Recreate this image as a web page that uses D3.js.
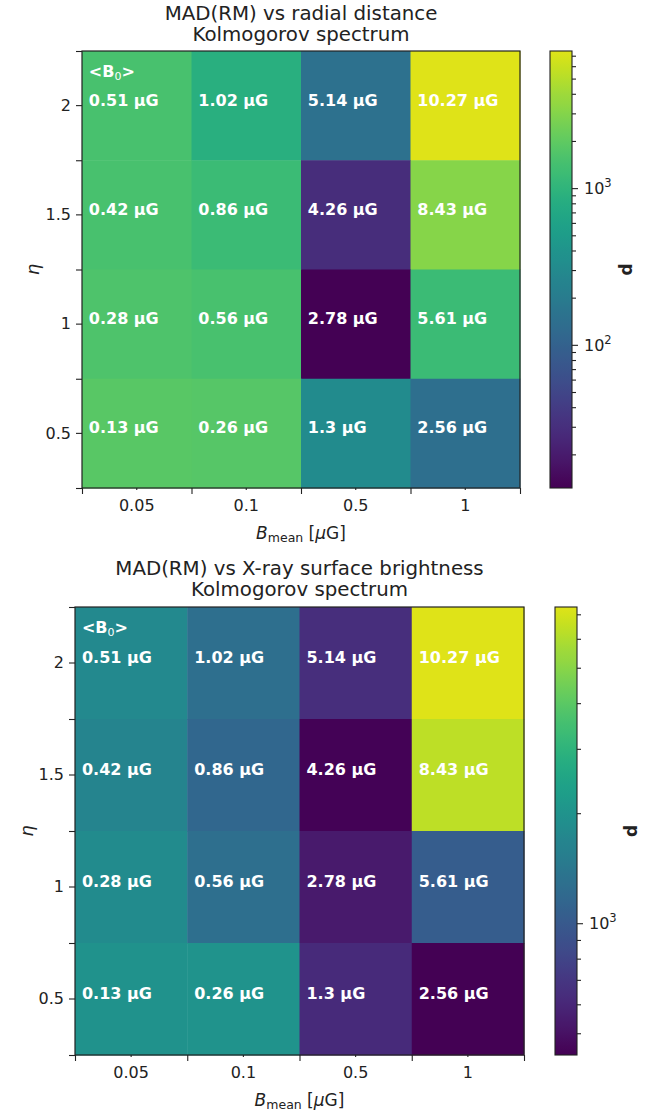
<!DOCTYPE html>
<html><head><meta charset="utf-8">
<script src="https://cdn.jsdelivr.net/npm/d3@7"></script>
<style>
body{margin:0;background:#fff}
svg text{font-family:"DejaVu Sans",sans-serif}
</style>
</head><body>
<svg id="c" width="660" height="1113"></svg>
<script>
// ---- data ----
const bmeanLabels = ["0.05", "0.1", "0.5", "1"];
const etaLabels = ["2", "1.5", "1", "0.5"];              // rows, top to bottom
const b0Labels = [
  ["0.51 µG", "1.02 µG", "5.14 µG", "10.27 µG"],
  ["0.42 µG", "0.86 µG", "4.26 µG", "8.43 µG"],
  ["0.28 µG", "0.56 µG", "2.78 µG", "5.61 µG"],
  ["0.13 µG", "0.26 µG", "1.3 µG", "2.56 µG"]
];
const qRadial = [
  [1479, 863, 149, 7500],
  [1479, 1211, 29, 3113],
  [1585, 1479, 12.2, 1211],
  [1811, 1754, 313, 139]
];
const qXray = [
  [1762, 1270, 641, 7330],
  [1660, 1161, 445, 6310],
  [1812, 1270, 536, 1031],
  [1983, 2014, 622, 436]
];
const titleRadial = ["MAD(RM) vs radial distance", "Kolmogorov spectrum"];
const titleXray = ["MAD(RM) vs X-ray surface brightness", "Kolmogorov spectrum"];
const cbarLabel = "d";

// ---- layout ----
const panels = [
  {q: qRadial, title: titleRadial, x0: 82, x1: 520, y0: 51, y1: 488, cx0: 550, cx1: 572, t1: 19.5, etaX: 33},
  {q: qXray, title: titleXray, x0: 75, x1: 524, y0: 607, y1: 1055, cx0: 555, cx1: 577, t1: 574.5, etaX: 27}
];

const cmap = t => d3.interpolateViridis(t * 0.95);

const svg = d3.select("#c");
const defs = svg.append("defs");
const grad = defs.append("linearGradient").attr("id", "vir")
  .attr("x1", 0).attr("y1", 1).attr("x2", 0).attr("y2", 0);
d3.range(0, 1.0001, 0.02).forEach(t => grad.append("stop")
  .attr("offset", t).attr("stop-color", cmap(t)));

panels.forEach(p => {
  const flat = p.q.flat();
  const ext = d3.extent(flat);
  const color = d3.scaleSequentialLog(cmap).domain(ext);
  const x = d3.scaleBand().domain(bmeanLabels).range([p.x0, p.x1]).padding(0);
  const y = d3.scaleBand().domain(etaLabels).range([p.y0, p.y1]).padding(0);
  const xb = d3.scaleLinear().domain([0, bmeanLabels.length]).range([p.x0, p.x1]);
  const yb = d3.scaleLinear().domain([0, etaLabels.length]).range([p.y0, p.y1]);
  const g = svg.append("g");

  // cells
  p.q.forEach((row, i) => row.forEach((v, j) => {
    g.append("rect")
      .attr("x", x(bmeanLabels[j])).attr("y", y(etaLabels[i]))
      .attr("width", x.bandwidth() + 0.5).attr("height", y.bandwidth() + 0.5)
      .attr("fill", color(v));
  }));
  // cell labels
  p.q.forEach((row, i) => row.forEach((v, j) => {
    g.append("text")
      .attr("x", x(bmeanLabels[j]) + x.bandwidth() * 0.062)
      .attr("y", y(etaLabels[i]) + y.bandwidth() / 2)
      .attr("fill", "#fff").attr("font-weight", "bold").attr("font-size", 16)
      .text(b0Labels[i][j]);
  }));
  const b0 = g.append("text")
    .attr("x", x(bmeanLabels[0]) + x.bandwidth() * 0.062)
    .attr("y", y(etaLabels[0]) + y.bandwidth() * 0.235)
    .attr("fill", "#fff").attr("font-weight", "bold").attr("font-size", 16);
  b0.append("tspan").text("<B");
  b0.append("tspan").attr("font-size", 11).attr("font-weight", "normal").attr("dy", 3).text("0");
  b0.append("tspan").attr("dy", -3).text(">");

  // frame
  g.append("rect").attr("x", p.x0).attr("y", p.y0).attr("width", p.x1 - p.x0).attr("height", p.y1 - p.y0)
    .attr("fill", "none").attr("stroke", "#222").attr("stroke-width", 1.2);

  // x axis: labels at centres, ticks at boundaries
  const xa = g.append("g").attr("transform", `translate(0,${p.y1})`)
    .call(d3.axisBottom(x).tickSize(2).tickPadding(10));
  const xa2 = g.append("g").attr("transform", `translate(0,${p.y1})`)
    .call(d3.axisBottom(xb).tickValues(d3.range(0, bmeanLabels.length + 1)).tickSize(6).tickFormat(""));
  // y axis
  const ya = g.append("g").attr("transform", `translate(${p.x0},0)`)
    .call(d3.axisLeft(y).tickSize(6).tickPadding(5));
  const ya2 = g.append("g").attr("transform", `translate(${p.x0},0)`)
    .call(d3.axisLeft(yb).tickValues(d3.range(0, etaLabels.length + 1)).tickSize(6).tickFormat(""));
  [xa, xa2, ya, ya2].forEach(a => {
    a.select(".domain").remove();
    a.selectAll("line").attr("stroke", "#222").attr("stroke-width", 1.1);
    a.selectAll("text").attr("font-size", 16).attr("fill", "#222").attr("font-family", "DejaVu Sans");
  });

  // axis labels
  const xl = g.append("text").attr("x", (p.x0 + p.x1) / 2).attr("y", p.y1 + 51)
    .attr("text-anchor", "middle").attr("font-size", 17).attr("fill", "#222");
  xl.append("tspan").attr("font-style", "italic").text("B");
  xl.append("tspan").attr("font-size", 12.5).attr("dy", 3).text("mean");
  xl.append("tspan").attr("dy", -3).text(" [");
  xl.append("tspan").attr("font-style", "italic").text("µ");
  xl.append("tspan").text("G]");
  g.append("text").attr("transform", `translate(${p.etaX},${(p.y0 + p.y1) / 2}) rotate(-90)`)
    .attr("text-anchor", "middle").attr("dy", "0.35em").attr("font-size", 18)
    .attr("font-style", "italic").attr("fill", "#222").text("η");

  // title
  p.title.forEach((t, k) => g.append("text").attr("x", (p.x0 + p.x1) / 2).attr("y", p.t1 + k * 21.5)
    .attr("text-anchor", "middle").attr("font-size", 19.8).attr("fill", "#222").text(t));

  // colorbar
  const cs = d3.scaleLog().domain(ext).range([p.y1, p.y0]);
  g.append("rect").attr("x", p.cx0).attr("y", p.y0).attr("width", p.cx1 - p.cx0).attr("height", p.y1 - p.y0)
    .attr("fill", "url(#vir)").attr("stroke", "#222").attr("stroke-width", 1.1);
  const all = cs.ticks();
  const major = all.filter(v => Math.abs(Math.log10(v) - Math.round(Math.log10(v))) < 1e-9);
  const minor = all.filter(v => !major.includes(v));
  const ca = g.append("g").attr("transform", `translate(${p.cx1},0)`)
    .call(d3.axisRight(cs).tickValues(major).tickSize(6).tickPadding(6).tickFormat(() => ""));
  ca.selectAll(".tick").each(function(v) {
    const t = d3.select(this).append("text").attr("x", 12).attr("dy", "0.35em")
      .attr("text-anchor", "start").attr("font-size", 16).attr("fill", "#222");
    t.append("tspan").text("10");
    t.append("tspan").attr("font-size", 11.5).attr("dy", -7).text(String(Math.round(Math.log10(v))));
  });
  const cm = g.append("g").attr("transform", `translate(${p.cx1},0)`)
    .call(d3.axisRight(cs).tickValues(minor).tickSize(4).tickFormat(""));
  [ca, cm].forEach(a => {
    a.select(".domain").remove();
    a.selectAll("line").attr("stroke", "#222").attr("stroke-width", 1.1);
    a.selectAll("text").attr("font-family", "DejaVu Sans");
  });
  g.append("text").attr("transform", `translate(${p.cx1 + 54},${(p.y0 + p.y1) / 2}) rotate(-90)`)
    .attr("text-anchor", "middle").attr("dy", "0.35em").attr("font-size", 17)
    .attr("font-weight", "bold").attr("fill", "#222").text(cbarLabel);
});
</script>
</body></html>
